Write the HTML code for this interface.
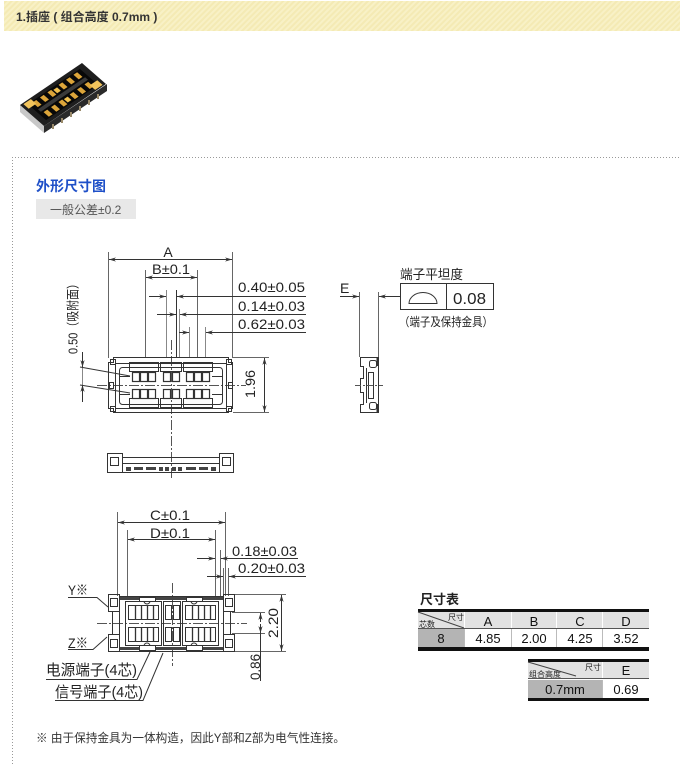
<!DOCTYPE html>
<html><head><meta charset="utf-8">
<style>
html,body{margin:0;padding:0;background:#fff;width:680px;height:766px;overflow:hidden;}
svg{display:block;}
text{font-family:"Liberation Sans","Noto Sans CJK SC",sans-serif;}
</style></head><body>
<svg width="680" height="766" viewBox="0 0 680 766" xmlns="http://www.w3.org/2000/svg">
<defs>
<pattern id="stripe" width="4" height="4" patternUnits="userSpaceOnUse" patternTransform="rotate(45)">
<rect width="4" height="4" fill="#f8f1c6"/><rect width="2" height="4" fill="#f4eab4"/>
</pattern>
<marker id="ar" viewBox="0 0 10 6" refX="10" refY="3" markerWidth="7" markerHeight="4.2" orient="auto-start-reverse" markerUnits="userSpaceOnUse">
<path d="M0,0 L10,3 L0,6 L3,3 Z" fill="#333"/>
</marker>
</defs>

<!-- header band -->
<rect x="4" y="1" width="676" height="30" fill="url(#stripe)"/>
<text x="16" y="21" font-size="12" font-weight="bold" fill="#333">1.插座 ( 组合高度 0.7mm )</text>

<!-- product photo -->
<polygon points="20,105 44,126 44,133 20,112" fill="#c8c8c8"/>
<polygon points="44,126 107,84 107,91 44,133" fill="#2a2a2a"/>
<g transform="matrix(0.62,-0.42,0.24,0.21,20,105)">
<rect x="0" y="0" width="100" height="100" fill="#1e1e1e"/>
<rect x="8" y="12" width="84" height="76" fill="#080808"/>
<rect x="12" y="44" width="76" height="12" fill="#3a3a3a"/>
<g fill="#dca53a">
<rect x="14" y="16" width="6" height="22"/><rect x="26" y="16" width="6" height="22"/><rect x="38" y="16" width="6" height="22"/>
<rect x="56" y="16" width="6" height="22"/><rect x="68" y="16" width="6" height="22"/><rect x="80" y="16" width="6" height="22"/>
<rect x="14" y="62" width="6" height="22"/><rect x="26" y="62" width="6" height="22"/><rect x="38" y="62" width="6" height="22"/>
<rect x="56" y="62" width="6" height="22"/><rect x="68" y="62" width="6" height="22"/><rect x="80" y="62" width="6" height="22"/>
</g>
<rect x="4" y="4" width="12" height="22" fill="#f2c45c"/>
<rect x="84" y="74" width="12" height="22" fill="#f2c45c"/>
<rect x="46" y="20" width="6" height="16" fill="#f0c050"/>
<rect x="46" y="64" width="6" height="16" fill="#f0c050"/>
</g>
<g fill="#9a8a6a">
<rect x="52" y="124" width="2" height="5"/><rect x="61" y="118" width="2" height="5"/><rect x="70" y="112" width="2" height="5"/><rect x="79" y="106" width="2" height="5"/><rect x="88" y="100" width="2" height="5"/><rect x="97" y="94" width="2" height="5"/>
</g>

<!-- dotted frame -->
<line x1="12.5" y1="157" x2="12.5" y2="766" stroke="#999" stroke-dasharray="1,2"/>
<line x1="12" y1="157.5" x2="680" y2="157.5" stroke="#999" stroke-dasharray="1,2"/>

<!-- section title -->
<text x="36" y="191" font-size="14" font-weight="bold" fill="#1f50c8">外形尺寸图</text>
<rect x="36" y="199" width="100" height="20" fill="#e8e8e8"/>
<text x="50" y="214" font-size="12" fill="#555">一般公差±0.2</text>

<!-- ============ TOP VIEW ============ -->
<g stroke="#333" stroke-width="1" fill="none">
<!-- A dim -->
<line x1="108.5" y1="252" x2="108.5" y2="358" stroke="#666"/>
<line x1="232.5" y1="252" x2="232.5" y2="358" stroke="#666"/>
<line x1="109" y1="259.5" x2="232" y2="259.5" marker-start="url(#ar)" marker-end="url(#ar)"/>
<!-- B dim -->
<line x1="145.5" y1="270" x2="145.5" y2="358" stroke="#666"/>
<line x1="197.5" y1="270" x2="197.5" y2="358" stroke="#666"/>
<line x1="146" y1="277.5" x2="197" y2="277.5" marker-start="url(#ar)" marker-end="url(#ar)"/>
<!-- small ext lines -->
<line x1="166.5" y1="290" x2="166.5" y2="358" stroke="#888"/>
<line x1="176.5" y1="290" x2="176.5" y2="358"/>
<line x1="179.5" y1="309" x2="179.5" y2="358" stroke="#888"/>
<line x1="189.5" y1="327" x2="189.5" y2="358" stroke="#888"/>
<line x1="205.5" y1="327" x2="205.5" y2="358" stroke="#888"/>
<!-- 0.40 -->
<line x1="149" y1="296.5" x2="166" y2="296.5" marker-end="url(#ar)"/>
<line x1="306" y1="296.5" x2="177" y2="296.5" marker-end="url(#ar)"/>
<!-- 0.14 -->
<line x1="157" y1="314.5" x2="176" y2="314.5" marker-end="url(#ar)"/>
<line x1="306" y1="314.5" x2="180" y2="314.5" marker-end="url(#ar)"/>
<!-- 0.62 -->
<line x1="179" y1="332.5" x2="189" y2="332.5" marker-end="url(#ar)"/>
<line x1="306" y1="332.5" x2="206" y2="332.5" marker-end="url(#ar)"/>
<!-- 1.96 -->
<line x1="233" y1="357.5" x2="269" y2="357.5" stroke="#666"/>
<line x1="233" y1="412.5" x2="269" y2="412.5" stroke="#666"/>
<line x1="264.5" y1="358" x2="264.5" y2="412" marker-start="url(#ar)" marker-end="url(#ar)"/>
<!-- 0.50 -->
<line x1="82.5" y1="352" x2="82.5" y2="367" marker-end="url(#ar)"/>
<line x1="82.5" y1="402" x2="82.5" y2="385" marker-end="url(#ar)"/>
<line x1="82.5" y1="367" x2="82.5" y2="385" stroke="#888"/>
<line x1="80" y1="367" x2="130" y2="376"/>
<line x1="80" y1="385" x2="130" y2="393"/>
<!-- centre lines -->
<line x1="97" y1="385.5" x2="246" y2="385.5" stroke="#555" stroke-dasharray="10,2,2,2"/>
<line x1="171.5" y1="340" x2="171.5" y2="479" stroke="#555" stroke-dasharray="10,2,2,2"/>

<!-- body -->
<path d="M113.5,357.5 H228.5 V362.5 H232.5 V408.5 H228.5 V412.5 H113.5 V408.5 H108.5 V362.5 H113.5 Z"/>
<rect x="110.5" y="359.5" width="5" height="5"/><rect x="226.5" y="359.5" width="5" height="5"/>
<rect x="110.5" y="406.5" width="5" height="5"/><rect x="226.5" y="406.5" width="5" height="5"/>
<rect x="115.5" y="363.5" width="111" height="45"/>
<rect x="119.5" y="367.5" width="103" height="37" rx="3"/>
<rect x="109.5" y="382.5" width="4" height="6"/><rect x="228.5" y="382.5" width="4" height="6"/>
<rect x="129.5" y="362.5" width="29" height="9"/><rect x="160.5" y="362.5" width="21" height="9"/><rect x="183.5" y="362.5" width="29" height="9"/>
<rect x="129.5" y="398.5" width="29" height="9"/><rect x="160.5" y="398.5" width="21" height="9"/><rect x="183.5" y="398.5" width="29" height="9"/>
<g stroke-width="1.2">
<rect x="132.5" y="372.5" width="7" height="9"/><rect x="140.5" y="372.5" width="7" height="9"/><rect x="148.5" y="372.5" width="7" height="9"/>
<rect x="163.5" y="372.5" width="7" height="9"/><rect x="172.5" y="372.5" width="7" height="9"/>
<rect x="186.5" y="372.5" width="7" height="9"/><rect x="194.5" y="372.5" width="7" height="9"/><rect x="202.5" y="372.5" width="7" height="9"/>
<rect x="132.5" y="389.5" width="7" height="9"/><rect x="140.5" y="389.5" width="7" height="9"/><rect x="148.5" y="389.5" width="7" height="9"/>
<rect x="163.5" y="389.5" width="7" height="9"/><rect x="172.5" y="389.5" width="7" height="9"/>
<rect x="186.5" y="389.5" width="7" height="9"/><rect x="194.5" y="389.5" width="7" height="9"/><rect x="202.5" y="389.5" width="7" height="9"/>
</g>
<line x1="120" y1="376.5" x2="130" y2="376.5"/><line x1="212" y1="376.5" x2="222" y2="376.5"/>
<line x1="120" y1="394.5" x2="130" y2="394.5"/><line x1="212" y1="394.5" x2="222" y2="394.5"/>

<!-- front view -->
<path d="M107.5,453.5 H122.5 V457.5 H219.5 V453.5 H233.5 V472.5 H107.5 Z"/>
<rect x="110.5" y="457.5" width="8" height="8"/><rect x="222.5" y="457.5" width="8" height="8"/>
<line x1="122" y1="463.5" x2="220" y2="463.5"/>
<line x1="122.5" y1="457" x2="122.5" y2="472"/><line x1="219.5" y1="457" x2="219.5" y2="472"/>
</g>
<g fill="#444">
<rect x="126" y="467" width="5" height="4"/><rect x="134" y="467" width="9" height="3"/><rect x="146" y="467" width="10" height="3"/>
<rect x="159" y="467" width="4" height="4"/><rect x="165" y="467" width="4" height="4"/><rect x="172" y="467" width="4" height="4"/><rect x="178" y="467" width="4" height="4"/>
<rect x="186" y="467" width="10" height="3"/><rect x="199" y="467" width="9" height="3"/><rect x="211" y="467" width="5" height="4"/>
</g>

<!-- top view texts -->
<g font-size="14" fill="#222">
<text x="168" y="257" text-anchor="middle">A</text>
<text x="152" y="274" textLength="38" lengthAdjust="spacingAndGlyphs">B±0.1</text>
<text x="238" y="292" textLength="67" lengthAdjust="spacingAndGlyphs">0.40±0.05</text>
<text x="238" y="311" textLength="67" lengthAdjust="spacingAndGlyphs">0.14±0.03</text>
<text x="238" y="329" textLength="67" lengthAdjust="spacingAndGlyphs">0.62±0.03</text>
<text transform="translate(250,384) rotate(-90)" text-anchor="middle" dy="0.36em" textLength="28" lengthAdjust="spacingAndGlyphs">1.96</text>
<text transform="translate(73,316) rotate(-90)" text-anchor="middle" dy="0.36em" font-size="13" textLength="76" lengthAdjust="spacingAndGlyphs">0.50（吸附面）</text>
</g>

<!-- ============ SIDE VIEW ============ -->
<g stroke="#333" stroke-width="1" fill="none">
<line x1="359.5" y1="292" x2="359.5" y2="357" stroke="#666"/>
<line x1="378.5" y1="292" x2="378.5" y2="357" stroke="#666"/>
<line x1="340" y1="296.5" x2="359" y2="296.5" marker-end="url(#ar)"/>
<line x1="400" y1="296.5" x2="379" y2="296.5" marker-end="url(#ar)"/>
<rect x="400.5" y="283.5" width="93" height="26"/>
<line x1="446.5" y1="283" x2="446.5" y2="310"/>
<path d="M409,303.5 A14,11 0 0 1 437,303.5 Z"/>
<path d="M360.5,357.5 H378.5 V412.5 H360.5 V404.5 H363.5 V392.5 H360.5 V378.5 H363.5 V366.5 H360.5 Z"/>
<rect x="369.5" y="360.5" width="7" height="7" rx="2"/>
<rect x="369.5" y="402.5" width="7" height="7" rx="2"/>
<line x1="366.5" y1="368" x2="366.5" y2="403"/>
<rect x="368.5" y="372.5" width="5" height="26"/>
<line x1="377.5" y1="358" x2="377.5" y2="366" stroke-width="2"/>
<line x1="377.5" y1="404" x2="377.5" y2="412" stroke-width="2"/>
<line x1="355" y1="385.5" x2="383" y2="385.5" stroke="#555" stroke-dasharray="6,2,2,2"/>
</g>
<text x="340" y="293" font-size="14" fill="#222">E</text>
<text x="400" y="279" font-size="13" fill="#222" textLength="63" lengthAdjust="spacingAndGlyphs">端子平坦度</text>
<text x="453" y="304" font-size="16" fill="#222" textLength="33" lengthAdjust="spacingAndGlyphs">0.08</text>
<text x="399" y="326" font-size="12" fill="#222" textLength="94" lengthAdjust="spacingAndGlyphs">（端子及保持金具）</text>

<!-- ============ BOTTOM VIEW ============ -->
<g stroke="#333" stroke-width="1" fill="none">
<!-- C -->
<line x1="117.5" y1="512" x2="117.5" y2="596" stroke="#666"/>
<line x1="225.5" y1="512" x2="225.5" y2="596" stroke="#666"/>
<line x1="118" y1="522.5" x2="225" y2="522.5" marker-start="url(#ar)" marker-end="url(#ar)"/>
<!-- D -->
<line x1="127.5" y1="530" x2="127.5" y2="598" stroke="#666"/>
<line x1="215.5" y1="530" x2="215.5" y2="598" stroke="#666"/>
<line x1="128" y1="539.5" x2="215" y2="539.5" marker-start="url(#ar)" marker-end="url(#ar)"/>
<!-- 0.18 -->
<line x1="220.5" y1="550" x2="220.5" y2="598" stroke="#666"/>
<line x1="197" y1="558.5" x2="215" y2="558.5" marker-end="url(#ar)"/>
<line x1="298" y1="558.5" x2="221" y2="558.5" marker-end="url(#ar)"/>
<!-- 0.20 -->
<line x1="223.5" y1="568" x2="223.5" y2="596" stroke="#666"/>
<line x1="228.5" y1="568" x2="228.5" y2="596" stroke="#666"/>
<line x1="207" y1="576.5" x2="223" y2="576.5" marker-end="url(#ar)"/>
<line x1="306" y1="576.5" x2="229" y2="576.5" marker-end="url(#ar)"/>
<!-- 2.20 -->
<line x1="235" y1="594.5" x2="286" y2="594.5" stroke="#666"/>
<line x1="235" y1="651.5" x2="286" y2="651.5" stroke="#666"/>
<line x1="281.5" y1="595" x2="281.5" y2="651" marker-start="url(#ar)" marker-end="url(#ar)"/>
<!-- 0.86 -->
<line x1="232" y1="612.5" x2="265" y2="612.5" stroke="#666"/>
<line x1="232" y1="633.5" x2="265" y2="633.5" stroke="#666"/>
<line x1="260.5" y1="622" x2="260.5" y2="613" marker-end="url(#ar)"/>
<line x1="260.5" y1="624" x2="260.5" y2="633" marker-end="url(#ar)"/>
<line x1="260.5" y1="633" x2="260.5" y2="681"/>
<!-- centre lines -->
<line x1="97" y1="623.5" x2="247" y2="623.5" stroke="#555" stroke-dasharray="10,2,2,2"/>
<line x1="172.5" y1="583" x2="172.5" y2="666" stroke="#555" stroke-dasharray="10,2,2,2"/>
<!-- leaders -->
<polyline points="68,597.5 97,597.5 108,607"/>
<polyline points="68,649.5 93,649.5 107,637"/>
<polyline points="46,679.5 137,679.5 150,652"/>
<polyline points="55,700.5 143,700.5 163,653"/>

<!-- body -->
<rect x="108.5" y="594.5" width="11" height="17"/><rect x="110.5" y="598.5" width="7" height="8"/>
<rect x="108.5" y="634.5" width="11" height="17"/><rect x="110.5" y="639.5" width="7" height="8"/>
<rect x="223.5" y="594.5" width="11" height="17"/><rect x="225.5" y="598.5" width="7" height="8"/>
<rect x="223.5" y="634.5" width="11" height="17"/><rect x="225.5" y="639.5" width="7" height="8"/>
<line x1="112.5" y1="611" x2="112.5" y2="635"/><line x1="230.5" y1="611" x2="230.5" y2="635"/>
<rect x="119.5" y="596.5" width="104" height="55"/>
<rect x="125.5" y="601.5" width="36" height="44"/>
<rect x="163.5" y="601.5" width="17" height="44"/>
<rect x="182.5" y="601.5" width="36" height="44"/>
<rect x="128.5" y="605.5" width="30" height="14"/><rect x="128.5" y="627.5" width="30" height="14"/>
<rect x="185.5" y="605.5" width="30" height="14"/><rect x="185.5" y="627.5" width="30" height="14"/>
<rect x="165.5" y="605.5" width="6" height="14"/><rect x="173.5" y="605.5" width="6" height="14"/>
<rect x="165.5" y="627.5" width="6" height="14"/><rect x="173.5" y="627.5" width="6" height="14"/>
<g stroke-width="1.3">
<line x1="135.5" y1="606" x2="135.5" y2="619"/><line x1="141.5" y1="606" x2="141.5" y2="619"/><line x1="147.5" y1="606" x2="147.5" y2="619"/><line x1="153.5" y1="606" x2="153.5" y2="619"/>
<line x1="135.5" y1="628" x2="135.5" y2="641"/><line x1="141.5" y1="628" x2="141.5" y2="641"/><line x1="147.5" y1="628" x2="147.5" y2="641"/><line x1="153.5" y1="628" x2="153.5" y2="641"/>
<line x1="192.5" y1="606" x2="192.5" y2="619"/><line x1="198.5" y1="606" x2="198.5" y2="619"/><line x1="204.5" y1="606" x2="204.5" y2="619"/><line x1="210.5" y1="606" x2="210.5" y2="619"/>
<line x1="192.5" y1="628" x2="192.5" y2="641"/><line x1="198.5" y1="628" x2="198.5" y2="641"/><line x1="204.5" y1="628" x2="204.5" y2="641"/><line x1="210.5" y1="628" x2="210.5" y2="641"/>
</g>
<path d="M139.5,601.5 V597.5 H155.5 V601.5"/><path d="M186.5,601.5 V597.5 H202.5 V601.5"/>
<path d="M139.5,645.5 V650.5 H155.5 V645.5"/><path d="M186.5,645.5 V650.5 H202.5 V645.5"/>
<path d="M144,601 A3,3 0 0 0 150,601"/><path d="M191,601 A3,3 0 0 0 197,601"/>
<path d="M144,646 A3,3 0 0 1 150,646"/><path d="M191,646 A3,3 0 0 1 197,646"/>
</g>
<g fill="#444">
<rect x="120" y="597" width="19" height="3"/><rect x="156" y="597" width="30" height="3"/><rect x="203" y="597" width="20" height="3"/>
<rect x="120" y="647" width="19" height="3"/><rect x="156" y="647" width="30" height="3"/><rect x="203" y="647" width="20" height="3"/>
</g>

<!-- bottom view texts -->
<g font-size="14" fill="#222">
<text x="150" y="520" textLength="40" lengthAdjust="spacingAndGlyphs">C±0.1</text>
<text x="150" y="538" textLength="40" lengthAdjust="spacingAndGlyphs">D±0.1</text>
<text x="232" y="556" textLength="65" lengthAdjust="spacingAndGlyphs">0.18±0.03</text>
<text x="238" y="573" textLength="67" lengthAdjust="spacingAndGlyphs">0.20±0.03</text>
<text transform="translate(273,623) rotate(-90)" text-anchor="middle" dy="0.36em" textLength="30" lengthAdjust="spacingAndGlyphs">2.20</text>
<text transform="translate(255,667) rotate(-90)" text-anchor="middle" dy="0.36em" textLength="26" lengthAdjust="spacingAndGlyphs">0.86</text>
<text x="68" y="595" textLength="20" lengthAdjust="spacingAndGlyphs">Y※</text>
<text x="68" y="648" textLength="20" lengthAdjust="spacingAndGlyphs">Z※</text>
<text x="46" y="675" font-size="15" textLength="91" lengthAdjust="spacingAndGlyphs">电源端子(4芯)</text>
<text x="55" y="697" font-size="15" textLength="88" lengthAdjust="spacingAndGlyphs">信号端子(4芯)</text>
</g>

<!-- ============ TABLES ============ -->
<text x="420" y="604" font-size="13" font-weight="bold" fill="#222">尺寸表</text>
<rect x="418" y="609" width="231" height="3" fill="#111"/>
<rect x="418" y="612" width="46" height="16" fill="#e2e2e2"/>
<rect x="465" y="612" width="46" height="16" fill="#e2e2e2"/>
<rect x="512" y="612" width="44" height="16" fill="#e2e2e2"/>
<rect x="557" y="612" width="45" height="16" fill="#e2e2e2"/>
<rect x="603" y="612" width="46" height="16" fill="#e2e2e2"/>
<rect x="418" y="628" width="231" height="1" fill="#555"/>
<rect x="418" y="629" width="46" height="18" fill="#b4b4b4"/>
<g stroke="#bbb"><line x1="464.5" y1="629" x2="464.5" y2="647"/><line x1="511.5" y1="629" x2="511.5" y2="647"/><line x1="556.5" y1="629" x2="556.5" y2="647"/><line x1="602.5" y1="629" x2="602.5" y2="647"/></g>
<rect x="418" y="647" width="231" height="4" fill="#111"/>
<line x1="418" y1="612" x2="464" y2="628" stroke="#444"/>
<text x="448" y="620" font-size="8" fill="#222">尺寸</text>
<text x="419" y="627" font-size="8" fill="#222">芯数</text>
<g font-size="13" fill="#111" text-anchor="middle">
<text x="488" y="626">A</text><text x="534" y="626">B</text><text x="580" y="626">C</text><text x="626" y="626">D</text>
<text x="441" y="643">8</text><text x="488" y="643">4.85</text><text x="534" y="643">2.00</text><text x="580" y="643">4.25</text><text x="626" y="643">3.52</text>
</g>

<rect x="528" y="659" width="121" height="3" fill="#111"/>
<rect x="528" y="662" width="74" height="16" fill="#e2e2e2"/>
<rect x="603" y="662" width="46" height="16" fill="#e2e2e2"/>
<rect x="528" y="678" width="121" height="1" fill="#555"/>
<rect x="528" y="680" width="74" height="18" fill="#b4b4b4"/>
<line x1="602.5" y1="680" x2="602.5" y2="698" stroke="#bbb"/>
<rect x="528" y="698" width="121" height="3" fill="#111"/>
<line x1="528" y1="662" x2="576" y2="676" stroke="#444"/>
<text x="585" y="670" font-size="8" fill="#222">尺寸</text>
<text x="529" y="677" font-size="8" fill="#222">组合高度</text>
<g font-size="13" fill="#111" text-anchor="middle">
<text x="626" y="675">E</text>
<text x="565" y="694">0.7mm</text><text x="626" y="694">0.69</text>
</g>

<!-- footer note -->
<text x="36" y="742" font-size="12" fill="#333" textLength="309" lengthAdjust="spacingAndGlyphs">※ 由于保持金具为一体构造，因此Y部和Z部为电气性连接。</text>
</svg>
</body></html>
